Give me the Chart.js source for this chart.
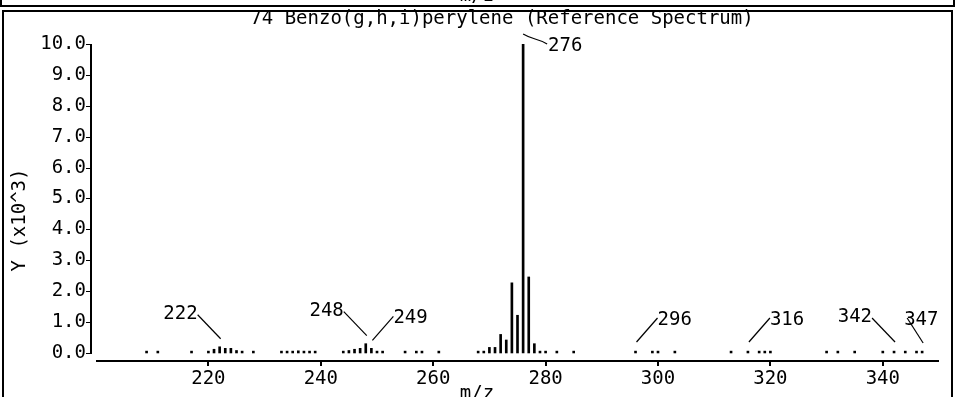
<!DOCTYPE html>
<html><head><meta charset="utf-8">
<script src="https://cdn.jsdelivr.net/npm/chart.js@4"></script>
<style>
html,body{margin:0;padding:0;background:#fff;}
#wrap{position:relative;width:955px;height:397px;overflow:hidden;background:#fff;}
canvas{position:absolute;left:0;top:0;}
</style></head><body>
<div id="wrap"><canvas id="c" width="955" height="397"></canvas></div>
<script>
// ---- data (m/z, intensity in units of 10^3) ----
const mz = [209,211,217,220,221,222,223,224,225,226,228,
            233,234,235,236,237,238,239,
            244,245,246,247,248,249,250,251,255,257,258,261,
            268,269,270,271,272,273,274,275,276,277,278,279,280,282,285,
            296,299,300,303,313,316,318,319,320,
            330,332,335,340,342,344,346,347];
const intensity = [0.06,0.06,0.06,0.06,0.12,0.2,0.15,0.15,0.08,0.06,0.06,
            0.06,0.06,0.06,0.07,0.06,0.06,0.06,
            0.06,0.08,0.12,0.15,0.3,0.15,0.06,0.06,0.06,0.06,0.06,0.06,
            0.06,0.06,0.18,0.18,0.6,0.42,2.27,1.22,10.0,2.46,0.3,0.06,0.06,0.06,0.06,
            0.06,0.06,0.06,0.06,0.06,0.06,0.06,0.06,0.06,
            0.06,0.06,0.06,0.06,0.06,0.06,0.06,0.06];
const xTickValues = [220,240,260,280,300,320,340];
const yTickValues = [0,1,2,3,4,5,6,7,8,9,10];
const labeledPeaks = [222,248,249,276,296,316,342,347];
const labelSides   = ['left','left','right','top','right','right','left','steep'];
const titleText = '74 Benzo(g,h,i)perylene (Reference Spectrum)';
const xTitleText = 'm/z';
const yTitleText = 'Y (x10^3)';

const FONT = '"DejaVu Sans Mono", monospace';
const FS = 19;

const decor = {
  id: 'decor',
  afterDraw(chart) {
    const {ctx, chartArea: a, scales: {x, y}} = chart;
    ctx.save();
    ctx.fillStyle = '#000';
    ctx.strokeStyle = '#000';
    // panel frames
    ctx.fillRect(0, 5, 955, 2);
    ctx.fillRect(0, 0, 2, 7);
    ctx.fillRect(953, 0, 2, 7);
    ctx.fillRect(2, 10, 951, 2);
    ctx.fillRect(2, 10, 2, 387);
    ctx.fillRect(951, 10, 2, 387);
    // y axis line + ticks
    const yx = a.left - 6;
    const yTop = Math.round(y.getPixelForValue(10));
    const yBot = Math.round(y.getPixelForValue(0));
    ctx.fillRect(yx, yTop, 2, yBot - yTop + 1);
    yTickValues.forEach(v => {
      const py = Math.round(y.getPixelForValue(v));
      ctx.fillRect(yx - 4, py, 4, 1);
    });
    // x axis line + ticks
    ctx.fillRect(a.left, a.bottom - 1, a.right - a.left, 2);
    xTickValues.forEach(v => {
      const px = Math.round(x.getPixelForValue(v));
      ctx.fillRect(px - 1, a.bottom, 2, 5);
    });
    // texts
    ctx.font = FS + 'px ' + FONT;
    ctx.textBaseline = 'middle';
    ctx.textAlign = 'center';
    ctx.fillText(titleText, 502, 19);
    ctx.fillText(xTitleText, 477, 394);
    ctx.fillText(xTitleText, 477, -4);
    ctx.save();
    ctx.translate(20, 220);
    ctx.rotate(-Math.PI / 2);
    ctx.fillText(yTitleText, 0, 0);
    ctx.restore();
    // peak labels with leader lines
    ctx.lineWidth = 1.2;
    labeledPeaks.forEach((m, i) => {
      const idx = mz.indexOf(m);
      const px = x.getPixelForValue(m);
      const py = Math.min(y.getPixelForValue(intensity[idx]) - 8, 342);
      const side = labelSides[i];
      ctx.beginPath();
      if (side === 'top') {
        ctx.moveTo(px, py - 2);
        ctx.bezierCurveTo(px + 10, py + 4, px + 14, py + 2, px + 24, py + 8);
        ctx.stroke();
        ctx.textAlign = 'left';
        ctx.fillText(String(m), px + 25, py + 10);
      } else if (side === 'left') {
        ctx.moveTo(px + 1, py);
        ctx.lineTo(px - 22, py - 24);
        ctx.stroke();
        ctx.textAlign = 'right';
        ctx.fillText(String(m), px - 22, py - 25);
      } else if (side === 'steep') {
        ctx.moveTo(px + 1, py + 1);
        ctx.lineTo(px - 15, py - 24);
        ctx.stroke();
        ctx.textAlign = 'left';
        ctx.fillText(String(m), px - 18, py - 22);
      } else {
        ctx.moveTo(px + 1, py);
        ctx.lineTo(px + 22, py - 24);
        ctx.stroke();
        ctx.textAlign = 'left';
        ctx.fillText(String(m), px + 22, py - 22);
      }
    });
    ctx.restore();
  }
};

new Chart(document.getElementById('c'), {
  type: 'bar',
  data: {
    datasets: [{
      data: mz.map((m, i) => ({x: m, y: intensity[i]})),
      backgroundColor: '#000',
      borderWidth: 0,
      barThickness: 2
    }]
  },
  options: {
    responsive: false,
    animation: false,
    devicePixelRatio: 1,
    layout: {padding: {top: 44, right: 16, left: 0, bottom: 0}},
    plugins: {legend: {display: false}, tooltip: {enabled: false}, title: {display: false}},
    scales: {
      x: {
        type: 'linear', min: 200, max: 350, offset: false,
        afterBuildTicks: s => { s.ticks = xTickValues.map(v => ({value: v})); },
        afterFit: s => { s.height = 36; },
        grid: {display: false, drawTicks: false, tickLength: 0, offset: false},
        border: {display: false},
        ticks: {color: '#000', font: {family: FONT, size: FS}, padding: 7, maxRotation: 0, autoSkip: false,
                callback: v => String(v)}
      },
      y: {
        type: 'linear', min: -0.26, max: 10,
        afterBuildTicks: s => { s.ticks = yTickValues.map(v => ({value: v})); },
        afterFit: s => { s.width = 96; },
        grid: {display: false, drawTicks: false, tickLength: 0},
        border: {display: false},
        ticks: {color: '#000', font: {family: FONT, size: FS}, padding: 10, autoSkip: false,
                callback: v => Number(v).toFixed(1)}
      }
    }
  },
  plugins: [decor]
});
</script>
</body></html>
